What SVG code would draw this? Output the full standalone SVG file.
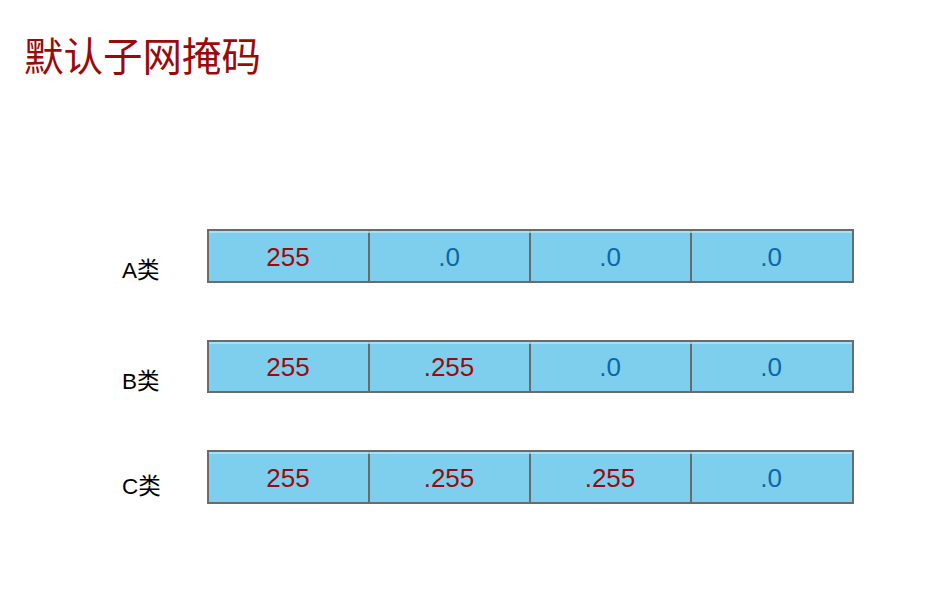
<svg xmlns="http://www.w3.org/2000/svg" width="944" height="594" viewBox="0 0 944 594">
<style>
.cell{fill:#7ecfee;stroke:#6b6b6b;stroke-width:2}
.hl{stroke:#b3e6f8;stroke-width:1.5}
.v{font-family:"Liberation Sans","Noto Sans CJK SC",sans-serif;font-size:26px;text-anchor:middle}
.r{fill:#9b0a0a}
.b{fill:#0a68a8}
.lbl{font-family:"Liberation Sans","Noto Sans CJK SC",sans-serif;font-size:22.5px;fill:#000}
</style>
<rect width="944" height="594" fill="#fff"/>
<text x="24" y="71" font-family="'Noto Sans CJK SC',sans-serif" font-size="39.5" fill="#9b0a0a">默认子网掩码</text>
<g id="rowA">
<text class="lbl" x="122" y="278">A类</text>
<rect class="cell" x="208" y="230" width="161" height="52"/><rect class="cell" x="369" y="230" width="161" height="52"/><rect class="cell" x="530" y="230" width="161" height="52"/><rect class="cell" x="691" y="230" width="162" height="52"/>
<line class="hl" x1="209" y1="232" x2="852" y2="232"/>
<text class="v r" x="288" y="266">255</text><text class="v b" x="449" y="266">.0</text><text class="v b" x="610" y="266">.0</text><text class="v b" x="771" y="266">.0</text>
</g>
<g id="rowB">
<text class="lbl" x="122" y="389">B类</text>
<rect class="cell" x="208" y="341" width="161" height="51"/><rect class="cell" x="369" y="341" width="161" height="51"/><rect class="cell" x="530" y="341" width="161" height="51"/><rect class="cell" x="691" y="341" width="162" height="51"/>
<line class="hl" x1="209" y1="343" x2="852" y2="343"/>
<text class="v r" x="288" y="376">255</text><text class="v r" x="449" y="376">.255</text><text class="v b" x="610" y="376">.0</text><text class="v b" x="771" y="376">.0</text>
</g>
<g id="rowC">
<text class="lbl" x="122" y="494">C类</text>
<rect class="cell" x="208" y="451" width="161" height="52"/><rect class="cell" x="369" y="451" width="161" height="52"/><rect class="cell" x="530" y="451" width="161" height="52"/><rect class="cell" x="691" y="451" width="162" height="52"/>
<line class="hl" x1="209" y1="453" x2="852" y2="453"/>
<text class="v r" x="288" y="487">255</text><text class="v r" x="449" y="487">.255</text><text class="v r" x="610" y="487">.255</text><text class="v b" x="771" y="487">.0</text>
</g>
<g id="connectors"/>
</svg>
